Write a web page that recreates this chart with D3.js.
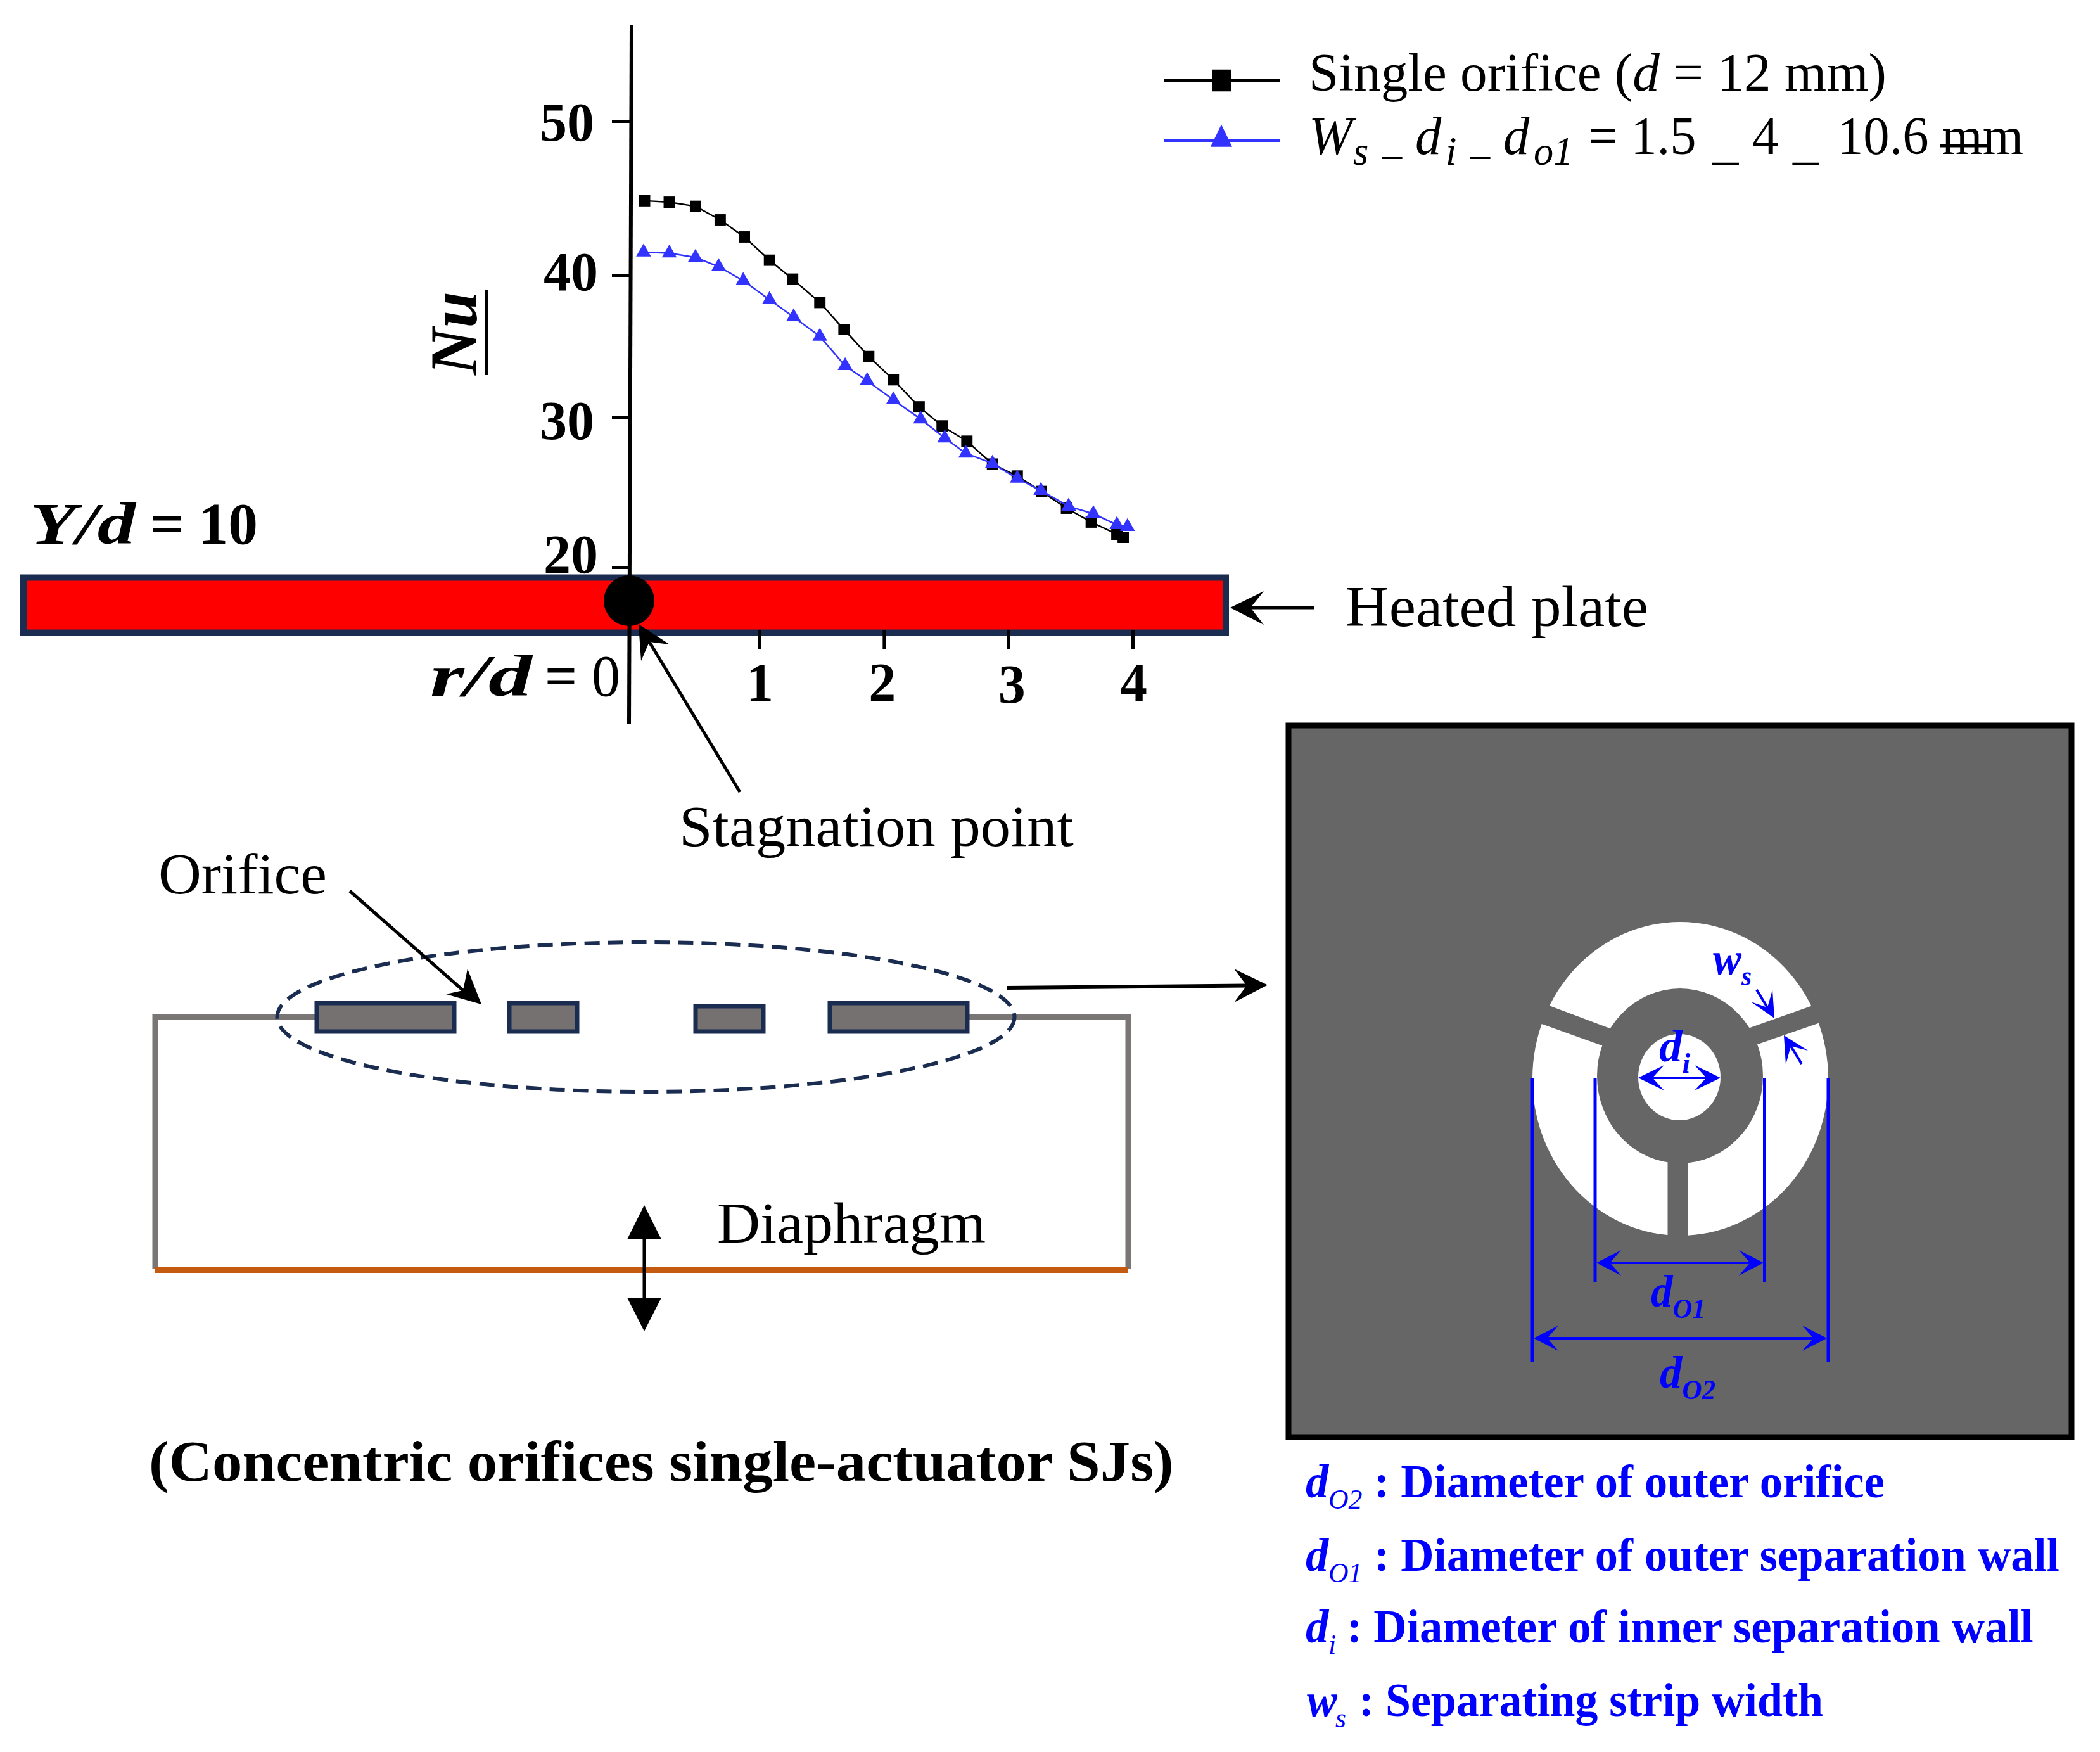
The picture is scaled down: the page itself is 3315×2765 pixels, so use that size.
<!DOCTYPE html>
<html>
<head>
<meta charset="utf-8">
<style>
  html, body { margin: 0; padding: 0; background: #ffffff; }
  svg { display: block; }
  text { font-family: "Liberation Serif", "Times New Roman", serif; }
</style>
</head>
<body>
<div id="vis0"></div>
<script src="https://cdn.jsdelivr.net/npm/d3@7/dist/d3.min.js"></script>
<script>
// Values.
const singleR = [0.106, 0.298, 0.502, 0.694, 0.882, 1.08, 1.266, 1.485, 1.679, 1.878, 2.076, 2.283, 2.468, 2.667, 2.873, 3.072, 3.266, 3.468, 3.667, 3.873, 3.924];
const singleNu = [44.82, 44.73, 44.46, 43.58, 42.47, 40.96, 39.71, 38.07, 36.18, 34.28, 32.65, 30.75, 29.44, 28.42, 26.89, 26.09, 25.06, 23.94, 23.01, 22.2, 21.99];
const concentricR = [0.098, 0.298, 0.502, 0.682, 0.873, 1.08, 1.274, 1.485, 1.688, 1.865, 2.076, 2.295, 2.489, 2.658, 2.873, 3.072, 3.262, 3.485, 3.684, 3.873, 3.958];
const concentricNu = [41.48, 41.42, 41.14, 40.54, 39.61, 38.27, 37.06, 35.69, 33.63, 32.58, 31.24, 29.9, 28.63, 27.61, 26.93, 25.93, 25.12, 24.06, 23.57, 22.83, 22.7];
const nuTicks = [20, 30, 40, 50];
const rTicks = [1, 2, 3, 4];

// Colour codes.
const navy = "#1a2c50";
const blue = "#0000ff";
const seriesBlue = "#3333ff";
const wallGrey = "#7a7675";
const plateGrey = "#666666";

const svg = d3.select("#vis0")
  .append("svg")
    .attr("width", 3315)
    .attr("height", 2765)
    .attr("viewBox", "0 0 3315 2765");

// The axes of the original are hand placed, so the ticks are not quite even.
const x = d3.scaleLinear().domain([0, 1, 4]).range([996, 1199, 1788]);
const y = d3.scaleLinear().domain([20, 30, 40, 50]).range([895, 659, 434, 191]);

// Text squeezed sideways to end at x1, the original is a stretched image.
// A run can carry its own page x, then the last run sets the squeeze.
function label(parent, x0, x1, base, size, runs, fill) {
  const t = parent.append("text")
    .attr("font-size", size)
    .attr("fill", fill || "#000")
    .attr("xml:space", "preserve");
  const spans = runs.map(function(r) {
    return t.append("tspan")
      .attr("font-style", r.i ? "italic" : "normal")
      .attr("font-weight", r.b ? "700" : "400")
      .attr("font-size", r.fs || size)
      .attr("dy", r.dy || 0)
      .text(r.t);
  });
  const last = runs[runs.length - 1];
  const sx = last.x
    ? (x1 - last.x) / spans[spans.length - 1].node().getComputedTextLength()
    : (x1 - x0) / t.node().getComputedTextLength();
  runs.forEach(function(r, i) {
    if (r.x) spans[i].attr("x", (r.x - x0) / sx);
  });
  t.attr("transform", "translate(" + x0 + "," + base + ") scale(" + sx + ",1)");
  return t;
}

// Filled head with a notch, plus a shaft from the tail to the notch.
function arrow(parent, tail, tip, left, notch, right, color, width) {
  parent.append("line")
    .attr("x1", tail[0]).attr("y1", tail[1])
    .attr("x2", notch[0]).attr("y2", notch[1])
    .attr("stroke", color)
    .attr("stroke-width", width);
  parent.append("path")
    .attr("d", d3.line()([tip, left, notch, right]) + "Z")
    .attr("fill", color);
}

// Dimension line with a head on both ends.
function dimension(parent, x0, x1, yy, len, half, width) {
  const notch = len * 0.55;
  arrow(parent, [x0 + notch, yy], [x0, yy], [x0 + len, yy - half], [x0 + notch, yy], [x0 + len, yy + half], blue, width);
  arrow(parent, [x1 - notch, yy], [x1, yy], [x1 - len, yy - half], [x1 - notch, yy], [x1 - len, yy + half], blue, width);
  parent.append("line")
    .attr("x1", x0 + notch).attr("y1", yy)
    .attr("x2", x1 - notch).attr("y2", yy)
    .attr("stroke", blue)
    .attr("stroke-width", width);
}

// Heated plate goes under the axes.
svg.append("rect")
  .attr("x", 37).attr("y", 911.5)
  .attr("width", 1898).attr("height", 87)
  .attr("fill", "#ff0000")
  .attr("stroke", navy)
  .attr("stroke-width", 10);

// Y axis.
const yAxis = svg.append("g")
  .attr("transform", "translate(996,0)")
  .call(d3.axisLeft(y).tickValues(nuTicks).tickSize(30).tickPadding(28));
yAxis.select(".domain").remove();
yAxis.selectAll(".tick line").attr("stroke", "#000").attr("stroke-width", 5);
yAxis.selectAll(".tick text")
  .attr("font-family", "Liberation Serif")
  .attr("font-size", 86)
  .attr("font-weight", "700")
  .attr("fill", "#000")
  .attr("dx", d => (d == 20 || d == 40) ? 6 : 0)
  .attr("dy", d => ({20: 8, 30: 33, 40: 23, 50: 30})[d]);

// X axis.
const xAxis = svg.append("g")
  .attr("transform", "translate(0,994)")
  .call(d3.axisBottom(x).tickValues(rTicks).tickFormat(d3.format("d")).tickSize(30).tickPadding(24));
xAxis.select(".domain").remove();
xAxis.selectAll(".tick line").attr("stroke", "#000").attr("stroke-width", 5);
xAxis.selectAll(".tick text")
  .attr("font-family", "Liberation Serif")
  .attr("font-size", 86)
  .attr("font-weight", "700")
  .attr("fill", "#000")
  .attr("dx", d => ({1: 0, 2: -3, 3: 5, 4: 1})[d])
  .attr("dy", d => d == 3 ? 61 : 58);

// The long vertical axis line.
svg.append("line")
  .attr("x1", 997).attr("y1", 40)
  .attr("x2", 993).attr("y2", 1143)
  .attr("stroke", "#000")
  .attr("stroke-width", 6);

// Stagnation point.
svg.append("circle")
  .attr("cx", 993).attr("cy", 948).attr("r", 40)
  .attr("fill", "#000");

// The two series.
function series(rs, nus, color, shape, size) {
  const pts = rs.map((r, i) => [x(r), y(nus[i])]);
  svg.append("path")
    .attr("d", d3.line()(pts))
    .attr("fill", "none")
    .attr("stroke", color)
    .attr("stroke-width", 2.5);
  svg.selectAll(null)
    .data(pts)
    .enter()
    .append("path")
      .attr("d", d3.symbol().type(shape).size(size))
      .attr("transform", d => "translate(" + d[0] + "," + d[1] + ")")
      .attr("fill", color);
}
series(singleR, singleNu, "#000", d3.symbolSquare, 320);
series(concentricR, concentricNu, seriesBlue, d3.symbolTriangle, 240);

// Legend.
svg.append("line").attr("x1", 1837).attr("x2", 2021).attr("y1", 127).attr("y2", 127)
  .attr("stroke", "#000").attr("stroke-width", 4);
svg.append("path").attr("d", d3.symbol().type(d3.symbolSquare).size(300))
  .attr("transform", "translate(1928.5,127) scale(1.7,2)").attr("fill", "#000");
svg.append("line").attr("x1", 1837).attr("x2", 2021).attr("y1", 222).attr("y2", 222)
  .attr("stroke", seriesBlue).attr("stroke-width", 4);
svg.append("path").attr("d", d3.symbol().type(d3.symbolTriangle).size(210))
  .attr("transform", "translate(1928,220) scale(1.55,1.85)").attr("fill", seriesBlue);

label(svg, 2066, 2978, 143, 85, [
  {t: "Single orifice ("}, {t: "d", i: 1}, {t: " = 12 mm)"}
]);
label(svg, 2066, 3194, 243, 85, [
  {t: "W", i: 1, x: 2066}, {t: "s", i: 1, fs: 64, dy: 17, x: 2136},
  {t: "_ ", fs: 64, dy: -17, x: 2182},
  {t: "d", i: 1, x: 2234}, {t: "i", i: 1, fs: 64, dy: 17, x: 2282},
  {t: "_ ", fs: 64, dy: -17, x: 2321},
  {t: "d", i: 1, x: 2373}, {t: "o1", i: 1, fs: 64, dy: 17, x: 2421},
  {t: "= 1.5 ", dy: -17, x: 2507},
  {t: "_ ", dy: 7, x: 2703}, {t: "4 ", dy: -7, x: 2766},
  {t: "_ ", dy: 7, x: 2830}, {t: "10.6 mm", dy: -7, x: 2900}
]);
svg.append("line").attr("x1", 3062).attr("x2", 3138).attr("y1", 230).attr("y2", 230)
  .attr("stroke", "#000").attr("stroke-width", 5);

// Axis titles and notes.
label(svg, 47, 214, 858, 94, [{t: "Y/d", i: 1, b: 1}]);
label(svg, 237, 407, 858, 94, [{t: "= 10", b: 1}]);
label(svg, 679, 840, 1098, 94, [{t: "r/d", i: 1, b: 1}]);
label(svg, 860, 979, 1098, 94, [{t: "= ", b: 1}, {t: "0"}]);

const nu = svg.append("g").attr("transform", "translate(752,592) rotate(-90)");
label(nu, 0, 132, 0, 105, [{t: "Nu", i: 1, b: 1}]);
nu.append("line").attr("x1", 0).attr("x2", 134).attr("y1", 16).attr("y2", 16)
  .attr("stroke", "#000").attr("stroke-width", 6);

arrow(svg, [2074, 959], [1942, 959], [1995, 933], [1974, 959], [1995, 986], "#000", 5);
label(svg, 2124, 2602, 988, 92, [{t: "Heated plate"}]);

arrow(svg, [1168, 1250], [1008, 985], [1057, 1017], [1025, 1013], [1012, 1043], "#000", 5);
label(svg, 1072, 1695, 1335, 92, [{t: "Stagnation point"}]);

// Actuator cavity.
svg.append("path")
  .attr("d", "M501,1605H245V2003M1528,1605H1781V2003")
  .attr("fill", "none")
  .attr("stroke", wallGrey)
  .attr("stroke-width", 9);
svg.append("line")
  .attr("x1", 245).attr("x2", 1781).attr("y1", 2004).attr("y2", 2004)
  .attr("stroke", "#c55a11")
  .attr("stroke-width", 10);

svg.selectAll(null)
  .data([[500, 1583, 217, 45], [804, 1583, 107, 45], [1098, 1588, 107, 40], [1310, 1583, 217, 45]])
  .enter()
  .append("rect")
    .attr("x", d => d[0]).attr("y", d => d[1])
    .attr("width", d => d[2]).attr("height", d => d[3])
    .attr("fill", "#767171")
    .attr("stroke", navy)
    .attr("stroke-width", 7);

svg.append("ellipse")
  .attr("cx", 1019.5).attr("cy", 1605).attr("rx", 582).attr("ry", 118)
  .attr("fill", "none")
  .attr("stroke", navy)
  .attr("stroke-width", 6)
  .attr("stroke-dasharray", "24 13");

label(svg, 250, 516, 1410, 92, [{t: "Orifice"}]);
arrow(svg, [552, 1406], [760, 1585], [738, 1529], [731, 1563], [704, 1569], "#000", 5);
arrow(svg, [1589, 1559], [2001, 1554.6], [1948, 1529], [1968, 1555.6], [1948, 1582], "#000", 6);

// Diaphragm motion.
svg.append("line").attr("x1", 1017).attr("x2", 1017).attr("y1", 1950).attr("y2", 2054)
  .attr("stroke", "#000").attr("stroke-width", 5);
svg.append("path").attr("d", "M1017,1902L1044,1956H990Z").attr("fill", "#000");
svg.append("path").attr("d", "M1017,2101L1044,2048H990Z").attr("fill", "#000");
label(svg, 1132, 1556, 1961, 92, [{t: "Diaphragm"}]);

label(svg, 235, 1853, 2337, 92, [{t: "(Concentric orifices single-actuator SJs)", b: 1}]);

// Orifice plate, top view.
svg.append("rect")
  .attr("x", 2034).attr("y", 1145)
  .attr("width", 1236).attr("height", 1123)
  .attr("fill", plateGrey)
  .attr("stroke", "#000")
  .attr("stroke-width", 9);
svg.append("ellipse").attr("cx", 2652.5).attr("cy", 1702.5).attr("rx", 233.5).attr("ry", 247.5).attr("fill", "#fff");
svg.append("ellipse").attr("cx", 2652).attr("cy", 1698).attr("rx", 131).attr("ry", 138).attr("fill", plateGrey);
svg.append("ellipse").attr("cx", 2651).attr("cy", 1700).attr("rx", 65).attr("ry", 68).attr("fill", "#fff");
svg.append("path")
  .attr("d", "M2632.5,1830H2665V1952H2632.5ZM2440,1585L2428,1614L2537,1653L2549,1626ZM2864,1586L2876,1613L2766,1651L2754,1625Z")
  .attr("fill", plateGrey);

// Dimension marks.
svg.selectAll(null)
  .data([[2419, 2149], [2886, 2149], [2518, 2024], [2785.5, 2024]])
  .enter()
  .append("line")
    .attr("x1", d => d[0]).attr("x2", d => d[0])
    .attr("y1", 1702).attr("y2", d => d[1])
    .attr("stroke", blue)
    .attr("stroke-width", 5);
dimension(svg, 2520, 2784, 1993, 39, 20, 4);
dimension(svg, 2421, 2884, 2112, 39, 20, 4);
dimension(svg, 2586, 2716, 1701, 41, 20, 4);
arrow(svg, [2773, 1562], [2801, 1607], [2798, 1562], [2790, 1590], [2764, 1581], blue, 4);
arrow(svg, [2844, 1679], [2816, 1634], [2819, 1680], [2827, 1651], [2854, 1658], blue, 4);

label(svg, 2619, 2668, 1675, 72, [{t: "d", i: 1, b: 1}, {t: "i", i: 1, b: 1, fs: 44, dy: 18}], blue);
label(svg, 2704, 2765, 1537, 72, [{t: "w", i: 1, b: 1}, {t: "s", i: 1, b: 1, fs: 44, dy: 18}], blue);
label(svg, 2606, 2692, 2062, 72, [{t: "d", i: 1, b: 1}, {t: "O1", i: 1, b: 1, fs: 44, dy: 18}], blue);
label(svg, 2620, 2708, 2190, 72, [{t: "d", i: 1, b: 1}, {t: "O2", i: 1, b: 1, fs: 44, dy: 18}], blue);

// Symbol list under the plate.
label(svg, 2061, 2975, 2363, 73, [
  {t: "d", i: 1, b: 1, x: 2061}, {t: "O2 ", i: 1, fs: 44, dy: 18, x: 2097}, {t: ": Diameter of outer orifice", b: 1, dy: -18, x: 2169}
], blue);
label(svg, 2061, 3251, 2479, 73, [
  {t: "d", i: 1, b: 1, x: 2061}, {t: "O1 ", i: 1, fs: 44, dy: 18, x: 2097}, {t: ": Diameter of outer separation wall", b: 1, dy: -18, x: 2169}
], blue);
label(svg, 2061, 3210, 2592, 73, [
  {t: "d", i: 1, b: 1, x: 2061}, {t: "i ", i: 1, fs: 44, dy: 18, x: 2097}, {t: ": Diameter of inner separation wall", b: 1, dy: -18, x: 2126}
], blue);
label(svg, 2063, 2878, 2708, 73, [
  {t: "w", i: 1, b: 1, x: 2063}, {t: "s ", i: 1, fs: 44, dy: 18, x: 2108}, {t: ": Separating strip width", b: 1, dy: -18, x: 2145}
], blue);
</script>
</body>
</html>
